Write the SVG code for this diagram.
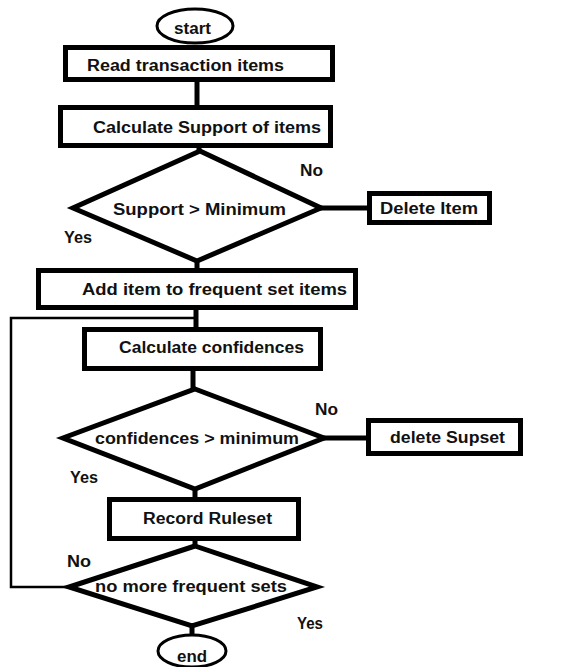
<svg xmlns="http://www.w3.org/2000/svg" width="571" height="667" viewBox="0 0 571 667">
<style>
.box{fill:#fff;stroke:#000;stroke-width:5}
.dia{fill:#fff;stroke:#000;stroke-width:5;stroke-linejoin:miter}
.ell{fill:#fff;stroke:#000;stroke-width:3}
.con{fill:none;stroke:#000;stroke-width:5}
.loop{fill:none;stroke:#000;stroke-width:2.5}
text{font-family:"Liberation Sans",Arial,sans-serif;font-weight:bold;font-size:16px;fill:#111}
</style>
<rect width="571" height="667" fill="#fff"/>
<g id="connectors">
<line class="con" x1="197" y1="80" x2="197" y2="108"/>
<line class="con" x1="199" y1="146" x2="199" y2="152"/>
<line class="con" x1="320" y1="208" x2="369" y2="208"/>
<line class="con" x1="197" y1="260" x2="197" y2="271"/>
<line class="con" x1="196" y1="308" x2="196" y2="329"/>
<line class="con" x1="193" y1="369" x2="193" y2="390"/>
<line class="con" x1="323" y1="438" x2="368" y2="438"/>
<line class="con" x1="195" y1="488" x2="195" y2="499"/>
<line class="con" x1="195" y1="539" x2="195" y2="547"/>
<line class="con" x1="192" y1="625" x2="192" y2="636"/>
<polyline class="loop" points="72,587 11,587 11,318 196,318"/>
</g>
<g id="start">
<ellipse class="ell" cx="195" cy="26" rx="38" ry="17"/>
<text x="174" y="34" textLength="37" lengthAdjust="spacingAndGlyphs">start</text>
</g>
<g id="read">
<rect class="box" x="65.5" y="47.5" width="267" height="32"/>
<text x="87" y="71" textLength="197" lengthAdjust="spacingAndGlyphs">Read transaction items</text>
</g>
<g id="calcSupport">
<rect class="box" x="60.5" y="107.5" width="270" height="38"/>
<text x="93" y="133" textLength="228" lengthAdjust="spacingAndGlyphs">Calculate Support of items</text>
</g>
<g id="supportDecision">
<polygon class="dia" points="200,151 321,208 197,261 73,208"/>
<text x="113" y="215" textLength="173" lengthAdjust="spacingAndGlyphs">Support &gt; Minimum</text>
<text x="300" y="176" textLength="23" lengthAdjust="spacingAndGlyphs">No</text>
<text x="64" y="243" textLength="28" lengthAdjust="spacingAndGlyphs">Yes</text>
</g>
<g id="deleteItem">
<rect class="box" x="369.5" y="193.5" width="120" height="29"/>
<text x="380" y="214" textLength="98" lengthAdjust="spacingAndGlyphs">Delete Item</text>
</g>
<g id="addItem">
<rect class="box" x="38.5" y="270.5" width="317" height="37"/>
<text x="82" y="295" textLength="265" lengthAdjust="spacingAndGlyphs">Add item to frequent set items</text>
</g>
<g id="calcConf">
<rect class="box" x="84.5" y="329.5" width="236" height="39"/>
<text x="119" y="353" textLength="185" lengthAdjust="spacingAndGlyphs">Calculate confidences</text>
</g>
<g id="confDecision">
<polygon class="dia" points="195,389 324,438 195,489 63,438"/>
<text x="95" y="444" textLength="204" lengthAdjust="spacingAndGlyphs">confidences &gt; minimum</text>
<text x="315" y="415" textLength="23" lengthAdjust="spacingAndGlyphs">No</text>
<text x="70" y="483" textLength="28" lengthAdjust="spacingAndGlyphs">Yes</text>
</g>
<g id="deleteSupset">
<rect class="box" x="368.5" y="420.5" width="152" height="33"/>
<text x="390" y="443" textLength="115" lengthAdjust="spacingAndGlyphs">delete Supset</text>
</g>
<g id="record">
<rect class="box" x="109.5" y="499.5" width="189" height="39"/>
<text x="143" y="524" textLength="129" lengthAdjust="spacingAndGlyphs">Record Ruleset</text>
</g>
<g id="moreDecision">
<polygon class="dia" points="195,546 317,587 192,626 69,587"/>
<text x="95" y="592" textLength="192" lengthAdjust="spacingAndGlyphs">no more frequent sets</text>
<text x="67" y="567" textLength="24" lengthAdjust="spacingAndGlyphs">No</text>
<text x="297" y="629" textLength="26" lengthAdjust="spacingAndGlyphs">Yes</text>
</g>
<g id="end">
<ellipse class="ell" cx="192" cy="651" rx="34" ry="16"/>
<text x="177" y="662" textLength="30" lengthAdjust="spacingAndGlyphs">end</text>
</g>
</svg>
